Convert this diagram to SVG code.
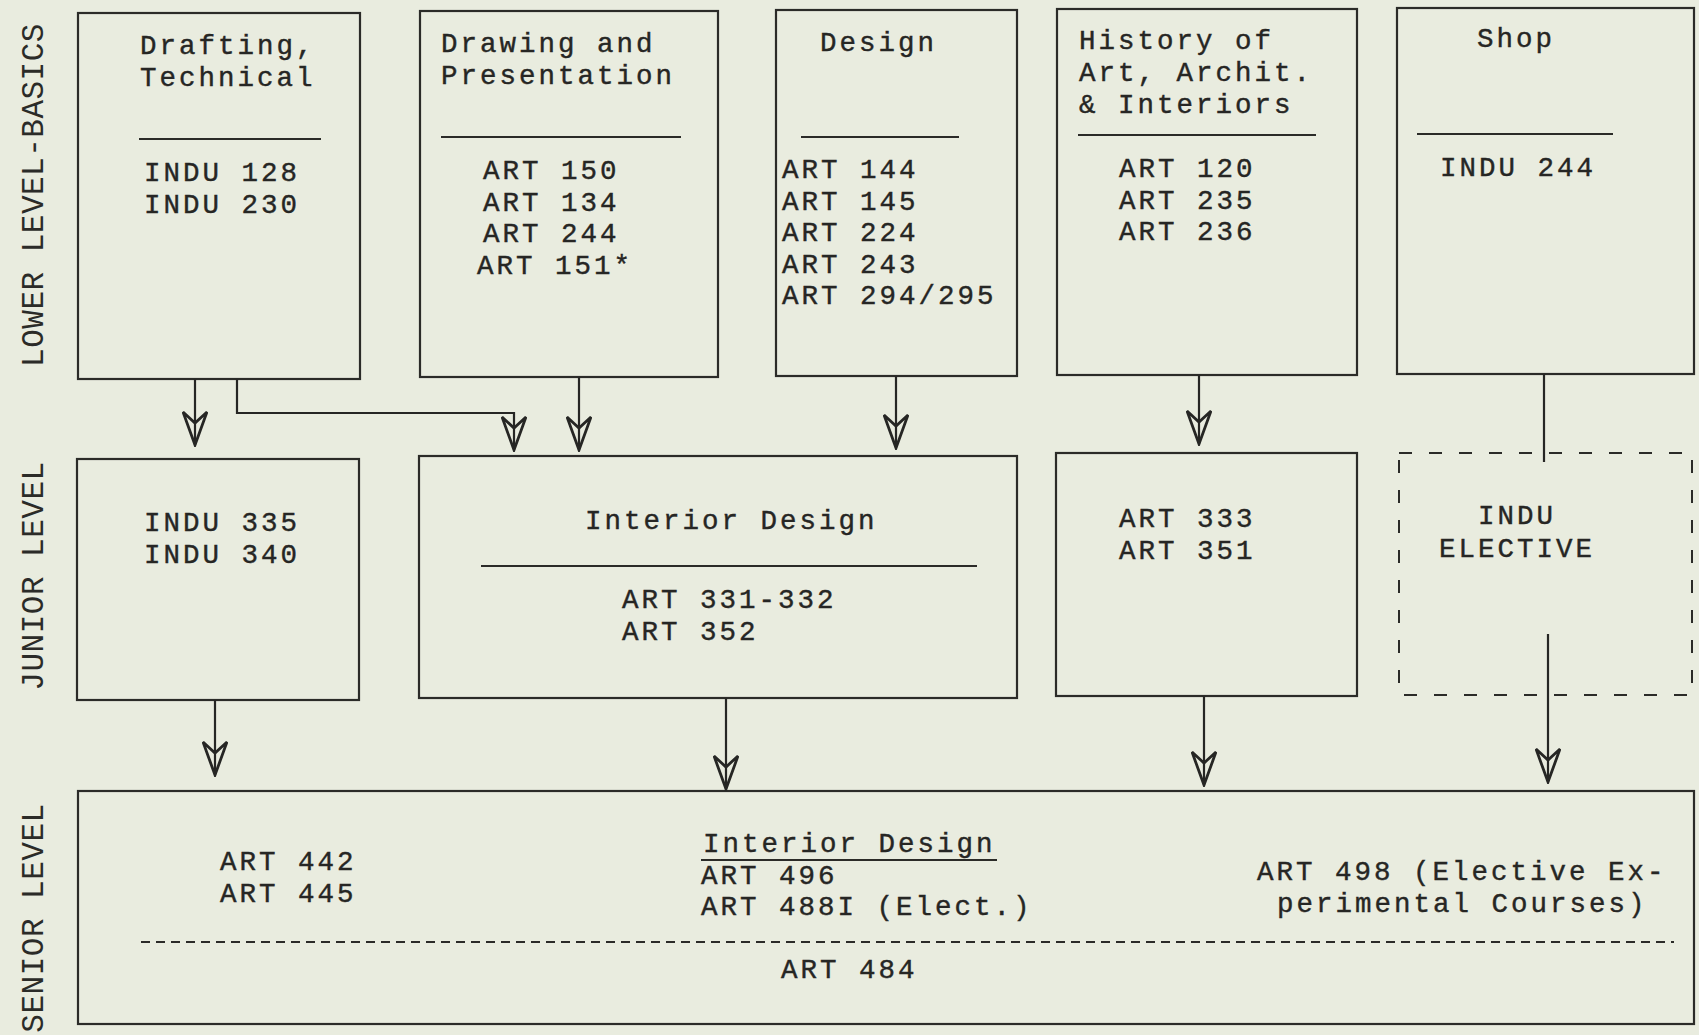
<svg xmlns="http://www.w3.org/2000/svg" width="1699" height="1035" viewBox="0 0 1699 1035">
<style>
.bg{fill:#e9ecdf}
.box{fill:none;stroke:#2b2b28;stroke-width:2.2}
.dbox{fill:none;stroke:#2b2b28;stroke-width:2;stroke-dasharray:13 17}
.div{stroke:#2b2b28;stroke-width:2}
.ddiv{stroke:#2b2b28;stroke-width:2;stroke-dasharray:9 6}
.t{font-family:"Liberation Mono","Courier New",monospace;font-size:27.5px;letter-spacing:3px;fill:#262624;stroke:#262624;stroke-width:0.4}
.lbl{font-family:"Liberation Mono","Courier New",monospace;font-size:31px;letter-spacing:0.5px;fill:#2b2b28}
.c{fill:none;stroke:#262624;stroke-width:2.2}
</style>
<defs>
<marker id="arr" markerUnits="userSpaceOnUse" viewBox="0 0 36 26" markerWidth="36" markerHeight="26" refX="34" refY="13" orient="auto">
<path d="M34,13 L1,1 L12,13 L1,25 Z" fill="none" stroke="#262624" stroke-width="2.8" stroke-linejoin="miter"/>
</marker>
</defs>
<rect class="bg" x="0" y="0" width="1699" height="1035"/>

<g id="level-labels">
<text class="lbl" transform="translate(43,195) rotate(-90)" text-anchor="middle">LOWER LEVEL-BASICS</text>
<text class="lbl" transform="translate(43,576) rotate(-90)" text-anchor="middle">JUNIOR LEVEL</text>
<text class="lbl" transform="translate(43,918) rotate(-90)" text-anchor="middle">SENIOR LEVEL</text>
</g>

<g id="drafting">
<rect class="box" x="78" y="13" width="282" height="366"/>
<text class="t" x="140" y="54">Drafting,<tspan x="140" dy="32">Technical</tspan></text>
<line class="div" x1="139" y1="139" x2="321" y2="139"/>
<text class="t" x="144" y="181">INDU 128<tspan x="144" dy="31.5">INDU 230</tspan></text>
</g>

<g id="drawing">
<rect class="box" x="420" y="11" width="298" height="366"/>
<text class="t" x="441" y="52">Drawing and<tspan x="441" dy="32">Presentation</tspan></text>
<line class="div" x1="441" y1="137" x2="681" y2="137"/>
<text class="t" x="483" y="179">ART 150<tspan x="483" dy="31.5">ART 134</tspan><tspan x="483" dy="31.5">ART 244</tspan><tspan x="477" dy="31.5">ART 151*</tspan></text>
</g>

<g id="design">
<rect class="box" x="776" y="10" width="241" height="366"/>
<text class="t" x="820" y="51">Design</text>
<line class="div" x1="801" y1="137" x2="959" y2="137"/>
<text class="t" x="782" y="178">ART 144<tspan x="782" dy="31.5">ART 145</tspan><tspan x="782" dy="31.5">ART 224</tspan><tspan x="782" dy="31.5">ART 243</tspan><tspan x="782" dy="31.5">ART 294/295</tspan></text>
</g>

<g id="history">
<rect class="box" x="1057" y="9" width="300" height="366"/>
<text class="t" x="1079" y="49">History of<tspan x="1079" dy="32">Art, Archit.</tspan><tspan x="1079" dy="32">&amp; Interiors</tspan></text>
<line class="div" x1="1078" y1="135" x2="1316" y2="135"/>
<text class="t" x="1119" y="177">ART 120<tspan x="1119" dy="31.5">ART 235</tspan><tspan x="1119" dy="31.5">ART 236</tspan></text>
</g>

<g id="shop">
<rect class="box" x="1397" y="8" width="297" height="366"/>
<text class="t" x="1477" y="47">Shop</text>
<line class="div" x1="1417" y1="134" x2="1613" y2="134"/>
<text class="t" x="1440" y="176">INDU 244</text>
</g>

<g id="indu-junior">
<rect class="box" x="77" y="459" width="282" height="241"/>
<text class="t" x="144" y="531">INDU 335<tspan x="144" dy="31.5">INDU 340</tspan></text>
</g>

<g id="interior-junior">
<rect class="box" x="419" y="456" width="598" height="242"/>
<text class="t" x="585" y="529">Interior Design</text>
<line class="div" x1="481" y1="566" x2="977" y2="566"/>
<text class="t" x="622" y="608">ART 331-332<tspan x="622" dy="32">ART 352</tspan></text>
</g>

<g id="art-junior">
<rect class="box" x="1056" y="453" width="301" height="243"/>
<text class="t" x="1119" y="527">ART 333<tspan x="1119" dy="31.5">ART 351</tspan></text>
</g>

<g id="indu-elective">
<rect class="dbox" x="1399" y="453" width="293" height="242"/>
<text class="t" x="1517" y="524" text-anchor="middle">INDU<tspan x="1517" dy="33">ELECTIVE</tspan></text>
</g>

<g id="senior">
<rect class="box" x="78" y="791" width="1616" height="233"/>
<text class="t" x="220" y="870">ART 442<tspan x="220" dy="31.5">ART 445</tspan></text>
<text class="t" x="703" y="852">Interior Design<tspan x="701" dy="31.5">ART 496</tspan><tspan x="701" dy="31.5">ART 488I (Elect.)</tspan></text>
<line class="div" x1="701" y1="860" x2="997" y2="860"/>
<text class="t" x="1257" y="880">ART 498 (Elective Ex-<tspan x="1277" dy="32">perimental Courses)</tspan></text>
<line class="ddiv" x1="141" y1="942" x2="1674" y2="942"/>
<text class="t" x="781" y="978">ART 484</text>
</g>

<g id="connectors">
<path class="c" d="M195,379 V445" marker-end="url(#arr)"/>
<path class="c" d="M237,379 V413 H514 V450" marker-end="url(#arr)"/>
<path class="c" d="M579,377 V450" marker-end="url(#arr)"/>
<path class="c" d="M896,376 V448" marker-end="url(#arr)"/>
<path class="c" d="M1199,375 V444" marker-end="url(#arr)"/>
<path class="c" d="M1544,374 V462"/>
<path class="c" d="M215,700 V775" marker-end="url(#arr)"/>
<path class="c" d="M726,698 V789" marker-end="url(#arr)"/>
<path class="c" d="M1204,696 V785" marker-end="url(#arr)"/>
<path class="c" d="M1548,634 V782" marker-end="url(#arr)"/>
</g>
</svg>
